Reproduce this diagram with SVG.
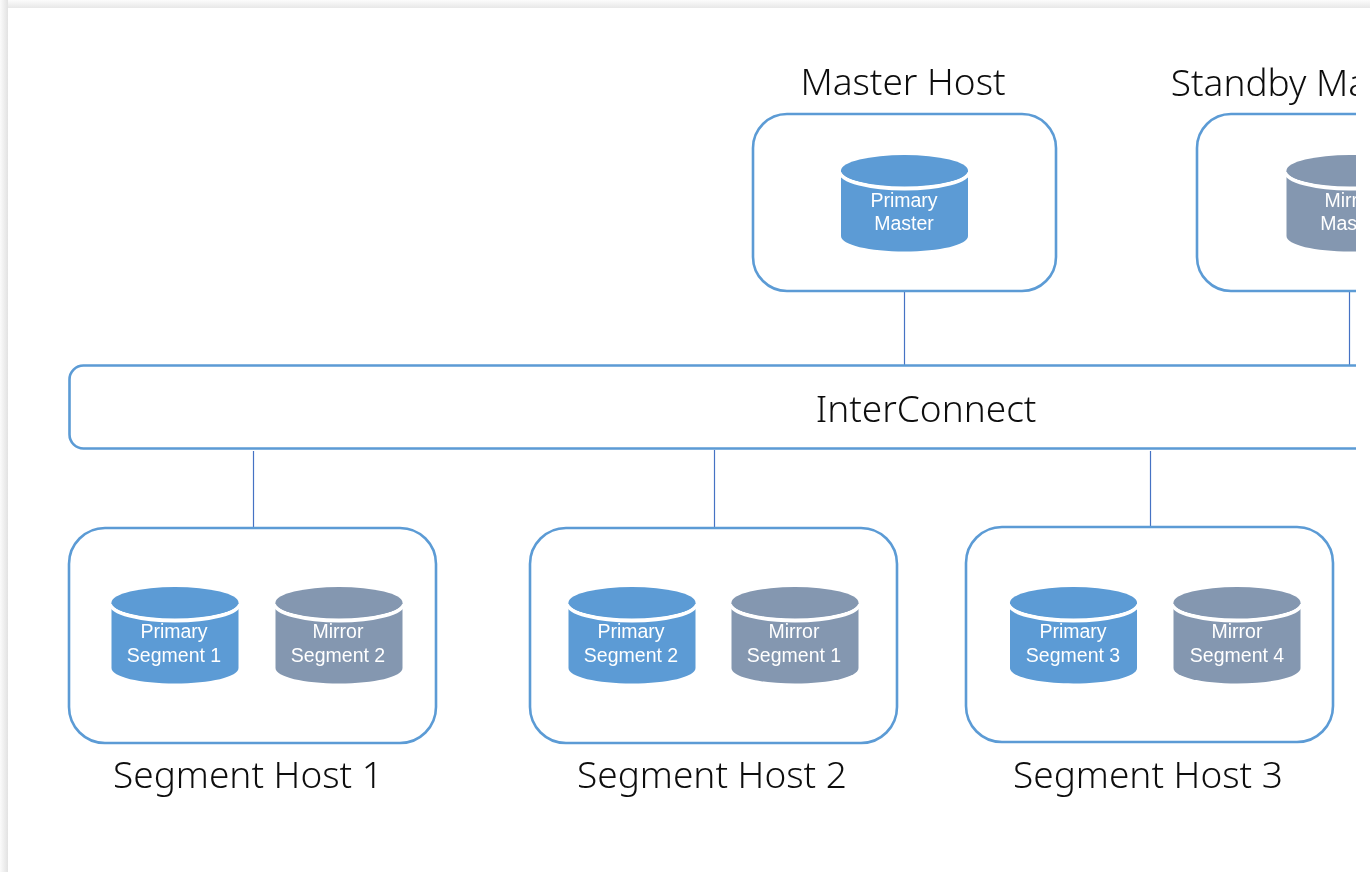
<svg xmlns="http://www.w3.org/2000/svg" width="1370" height="872" viewBox="0 0 1370 872">
<defs>
<linearGradient id="sl" x1="0" x2="1" y1="0" y2="0"><stop offset="0" stop-color="#fbfbfb"/><stop offset="1" stop-color="#e2e2e2"/></linearGradient>
<linearGradient id="st" x1="0" x2="0" y1="0" y2="1"><stop offset="0" stop-color="#fcfcfc"/><stop offset="1" stop-color="#e8e8e8"/></linearGradient>
<clipPath id="page"><rect x="8" y="8" width="1348" height="864"/></clipPath>
<filter id="soft" filterUnits="userSpaceOnUse" x="0" y="0" width="1370" height="872"><feGaussianBlur stdDeviation="0.4"/></filter>
<g id="cyl">
<path d="M-63.500 16V81C-63.500 90 -35 96.500 0 96.500S63.500 90 63.500 81V16Z"/>
<path d="M-64 17C-64 26 -35 33.500 0 33.500S64 26 64 17" fill="none" stroke="#fff" stroke-width="4"/>
<ellipse cx="0" cy="15.500" rx="63.500" ry="15.500"/>
</g>
</defs>
<style>
.box{fill:#fff;stroke:#5b9bd5;stroke-width:2.6}
.con{stroke:#4472c4;stroke-width:1.2;fill:none}
.pri{fill:#5b9bd5}
.mir{fill:#8497b0}
.t{font-family:"Noto Sans","Open Sans","DejaVu Sans",sans-serif;font-weight:300;font-size:37px;fill:#111;text-anchor:middle}
.c{font-family:"Liberation Sans",Arial,sans-serif;font-size:19.500px;fill:#fff;text-anchor:middle}
</style>
<rect width="1370" height="872" fill="#fff"/>
<rect x="0" y="0" width="8" height="872" fill="url(#sl)"/>
<rect x="8" y="0" width="1362" height="8" fill="url(#st)"/>
<g clip-path="url(#page)">
<g filter="url(#soft)">
<g id="connectors">
<path class="con" d="M904.500 291V366M1349.500 291V366M253.500 451V528M714.500 450V527M1150.500 451V527"/>
</g>
<g id="interconnect">
<rect class="box" x="69.500" y="365.500" width="1400" height="83" rx="14"/>
<text class="t" x="926" y="422">InterConnect</text>
</g>
<g id="master-host">
<rect class="box" x="753" y="114" width="303" height="177" rx="34"/>
<text class="t" x="903" y="95">Master Host</text>
<g class="pri" transform="translate(904.500 155)"><use href="#cyl"/></g>
<text class="c" x="904" y="207">Primary</text><text class="c" x="904" y="230">Master</text>
</g>
<g id="standby-master-host">
<rect class="box" x="1197" y="114" width="303" height="177" rx="34"/>
<text class="t" x="1346" y="96">Standby Master Host</text>
<g class="mir" transform="translate(1350 155)"><use href="#cyl"/></g>
<text class="c" x="1350" y="207">Mirror</text><text class="c" x="1350" y="230">Master</text>
</g>
<g id="segment-host-1">
<rect class="box" x="69" y="528" width="367" height="215" rx="36"/>
<text class="t" x="248" y="788">Segment Host 1</text>
<g class="pri" transform="translate(175 587)"><use href="#cyl"/></g>
<text class="c" x="174" y="638">Primary</text><text class="c" x="174" y="662">Segment 1</text>
<g class="mir" transform="translate(339 587)"><use href="#cyl"/></g>
<text class="c" x="338" y="638">Mirror</text><text class="c" x="338" y="662">Segment 2</text>
</g>
<g id="segment-host-2">
<rect class="box" x="530" y="528" width="367" height="215" rx="36"/>
<text class="t" x="712" y="788">Segment Host 2</text>
<g class="pri" transform="translate(632 587)"><use href="#cyl"/></g>
<text class="c" x="631" y="638">Primary</text><text class="c" x="631" y="662">Segment 2</text>
<g class="mir" transform="translate(795 587)"><use href="#cyl"/></g>
<text class="c" x="794" y="638">Mirror</text><text class="c" x="794" y="662">Segment 1</text>
</g>
<g id="segment-host-3">
<rect class="box" x="966" y="527" width="367" height="215" rx="36"/>
<text class="t" x="1148" y="788">Segment Host 3</text>
<g class="pri" transform="translate(1073.500 587)"><use href="#cyl"/></g>
<text class="c" x="1073" y="638">Primary</text><text class="c" x="1073" y="662">Segment 3</text>
<g class="mir" transform="translate(1237 587)"><use href="#cyl"/></g>
<text class="c" x="1237" y="638">Mirror</text><text class="c" x="1237" y="662">Segment 4</text>
</g>
</g>
</g>
</svg>
